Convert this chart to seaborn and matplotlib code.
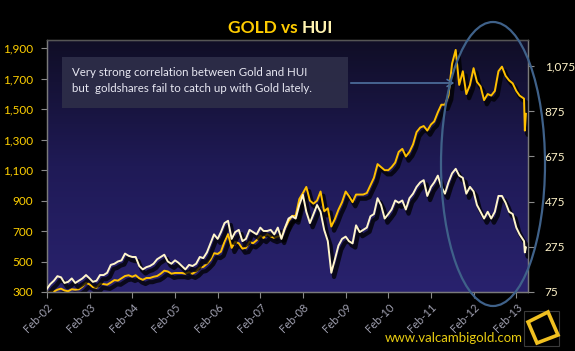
import matplotlib
matplotlib.use("Agg")
import matplotlib.pyplot as plt
import seaborn as sns
import numpy as np
import pandas as pd
import matplotlib.dates as mdates
import matplotlib.patheffects as pe
from matplotlib.patches import Ellipse, FancyBboxPatch, Polygon, Rectangle, FancyArrowPatch
from matplotlib.ticker import FuncFormatter, FixedLocator
from matplotlib.colors import LinearSegmentedColormap

# ---------------- data ----------------
month_start = "2002-02-01"
month_end = "2013-03-01"
extra_dates = ["2013-04-08", "2013-04-15", "2013-04-24"]

gold = [
    295, 300, 303, 315, 322, 310, 305, 318, 315, 318, 335,
    360, 350, 332, 328, 355, 352, 348, 362, 378, 375, 390, 405,
    410, 400, 410, 390, 380, 392, 392, 400, 405, 420, 440, 435,
    420, 425, 425, 425, 420, 430, 420, 435, 460, 465, 485, 510,
    555, 550, 565, 630, 680, 590, 630, 620, 585, 590, 630, 620,
    640, 670, 655, 680, 665, 655, 665, 665, 720, 765, 800, 800,
    910, 950, 990, 900, 880, 900, 960, 830, 850, 730, 780, 840,
    890, 960, 930, 890, 940, 940, 940, 950, 1000, 1050, 1140, 1120,
    1100, 1100, 1120, 1150, 1220, 1240, 1190, 1220, 1270, 1350, 1380, 1390,
    1360, 1400, 1420, 1480, 1530, 1530, 1590, 1800, 1890, 1660, 1750, 1600,
    1660, 1770, 1680, 1650, 1560, 1600, 1590, 1620, 1750, 1780, 1720, 1690,
    1670, 1620, 1590,
    1570, 1360, 1470,
]
hui = [
    90, 110, 125, 145, 140, 115, 120, 135, 115, 125, 135,
    150, 135, 120, 125, 150, 150, 160, 195, 200, 210, 215, 245,
    235, 230, 230, 190, 175, 185, 190, 200, 220, 230, 240, 210,
    200, 215, 205, 190, 175, 195, 190, 200, 230, 225, 250, 290,
    330, 310, 340, 380, 390, 310, 340, 350, 300, 310, 350, 340,
    330, 360, 345, 345, 350, 330, 360, 310, 360, 400, 410, 400,
    460, 505, 430, 380, 420, 460, 430, 350, 300, 160, 220, 280,
    310, 320, 300, 290, 370, 340, 350, 360, 410, 420, 490, 460,
    400, 420, 440, 480, 470, 480, 440, 490, 510, 540, 560, 570,
    500, 540, 560, 590, 540, 510, 560, 600, 620, 590, 580, 510,
    540, 520, 460, 430, 400, 430, 400, 430, 500, 500, 470, 430,
    420, 360, 330,
    300, 250, 272,
]
gold_ticks = [300, 500, 700, 900, 1100, 1300, 1500, 1700, 1900]
hui_ticks = [75, 275, 475, 675, 875, 1075]
title_left = "GOLD vs"
title_right = "HUI"
note_lines = ["Very strong correlation between Gold and HUI",
              "but  goldshares fail to catch up with Gold lately."]
site = "www.valcambigold.com"

dates = list(pd.date_range(month_start, month_end, freq="MS")) + list(pd.to_datetime(extra_dates))
df = pd.DataFrame({"date": dates, "gold": gold, "hui": hui})

# ---------------- figure ----------------
W, H = 575, 351
fig = plt.figure(figsize=(W / 100, H / 100), dpi=100, facecolor="black")

def fx(px):
    return px / W

def fy(py):
    return 1 - py / H

ax = fig.add_axes([fx(47), fy(292), (528 - 47) / W, (292 - 40) / H])
ax.set_facecolor("none")

# gradient background
cmap = LinearSegmentedColormap.from_list("bg", ["#29226e", "#1f1a56", "#100e26"])
grad = np.linspace(0, 1, 256).reshape(-1, 1)
ax.imshow(grad, aspect="auto", cmap=cmap, extent=[0, 1, 0, 1], transform=ax.transAxes,
          origin="lower", zorder=0)

shadow = [pe.SimpleLineShadow(offset=(2, -3), shadow_color="black", alpha=0.75, linewidth=3.0),
          pe.Normal()]

sns.lineplot(data=df, x="date", y="gold", ax=ax, color="#FFC000", linewidth=1.4, zorder=3)
for l in ax.lines:
    l.set_path_effects(shadow)

ax2 = ax.twinx()
ax2.set_facecolor("none")
sns.lineplot(data=df, x="date", y="hui", ax=ax2, color="#FFF5CC", linewidth=1.4, zorder=3)
for l in ax2.lines:
    l.set_path_effects(shadow)

ax.set_xlim(pd.Timestamp("2002-02-01"), pd.Timestamp("2013-05-12"))
ax.set_ylim(300, 1955)
ax2.set_ylim(75, 1190)

ax.set_xlabel("")
ax.set_ylabel("")
ax2.set_ylabel("")

ax.xaxis.set_major_locator(mdates.MonthLocator(bymonth=2, bymonthday=1))
ax.xaxis.set_major_formatter(mdates.DateFormatter("%b-%y"))
ax.yaxis.set_major_locator(FixedLocator(gold_ticks))
ax.yaxis.set_major_formatter(FuncFormatter(lambda v, p: f"{int(v):,}"))
ax2.yaxis.set_major_locator(FixedLocator(hui_ticks))
ax2.yaxis.set_major_formatter(FuncFormatter(lambda v, p: f"{int(v):,}"))

ax.tick_params(axis="both", colors="#8a8a8a", length=4, width=0.8)
ax.tick_params(axis="x", pad=3)
ax.tick_params(axis="y", pad=6)
ax2.tick_params(axis="y", colors="#8a8a8a", length=4, width=0.8, pad=8)

font = "Lato"
for lab in ax.get_yticklabels():
    lab.set_color("#FFD000")
    lab.set_fontsize(8.5)
    lab.set_family(font)
for lab in ax2.get_yticklabels():
    lab.set_color("#FFF3C8")
    lab.set_fontsize(8.5)
    lab.set_family(font)
for lab in ax.get_xticklabels():
    lab.set_color("#a0a0b0")
    lab.set_fontsize(8)
    lab.set_family(font)
    lab.set_rotation(45)
    lab.set_ha("right")
    lab.set_rotation_mode("anchor")

for a in (ax, ax2):
    for s in a.spines.values():
        s.set_color("#7a7a7a")
        s.set_linewidth(0.9)
ax2.spines["top"].set_color("#555555")

# title
fig.text(fx(298), fy(33), title_left, color="#FFCC00", fontsize=12.5, fontweight="bold",
         family=font, ha="right", va="baseline")
fig.text(fx(302), fy(33), title_right, color="#FFF3B0", fontsize=12.5, fontweight="bold",
         family=font, ha="left", va="baseline")

# note box
box = FancyBboxPatch((fx(62), fy(108)), fx(348) - fx(62), fy(57) - fy(108),
                     boxstyle="square,pad=0", transform=fig.transFigure,
                     facecolor="#2d2d48", edgecolor="none", alpha=0.95, zorder=5)
fig.add_artist(box)
fig.text(fx(72), fy(72), note_lines[0], color="#e8e8f2", fontsize=8.3, family=font,
         ha="left", va="center", zorder=6)
fig.text(fx(72), fy(88), note_lines[1], color="#e8e8f2", fontsize=8.3, family=font,
         ha="left", va="center", zorder=6)

arrow = FancyArrowPatch((fx(348), fy(83)), (fx(457), fy(83)), transform=fig.transFigure,
                        arrowstyle="->,head_length=4,head_width=2.5", color="#4f72a0",
                        linewidth=1.2, zorder=6)
fig.add_artist(arrow)

ell = Ellipse((fx(493), fy(164)), fx(104), 284 / H, transform=fig.transFigure,
              fill=False, edgecolor="#3f6189", linewidth=1.6, zorder=7)
fig.add_artist(ell)

# site + logo
fig.text(fx(523), fy(342), site, color="#E8CC10", fontsize=9.5, family=font,
         ha="right", va="baseline")
fig.add_artist(Rectangle((fx(524), fy(346)), fx(35), 35 / H, transform=fig.transFigure,
                         fill=False, edgecolor="#3a3a3a", linewidth=0.8))
fig.add_artist(Polygon([(fx(528), fy(322)), (fx(548), fy(312)), (fx(558), fy(335)), (fx(537), fy(343))],
                       closed=True, transform=fig.transFigure, fill=False,
                       edgecolor="#F0C020", linewidth=2.6))

fig.savefig("out.png", dpi=100, facecolor="black")
